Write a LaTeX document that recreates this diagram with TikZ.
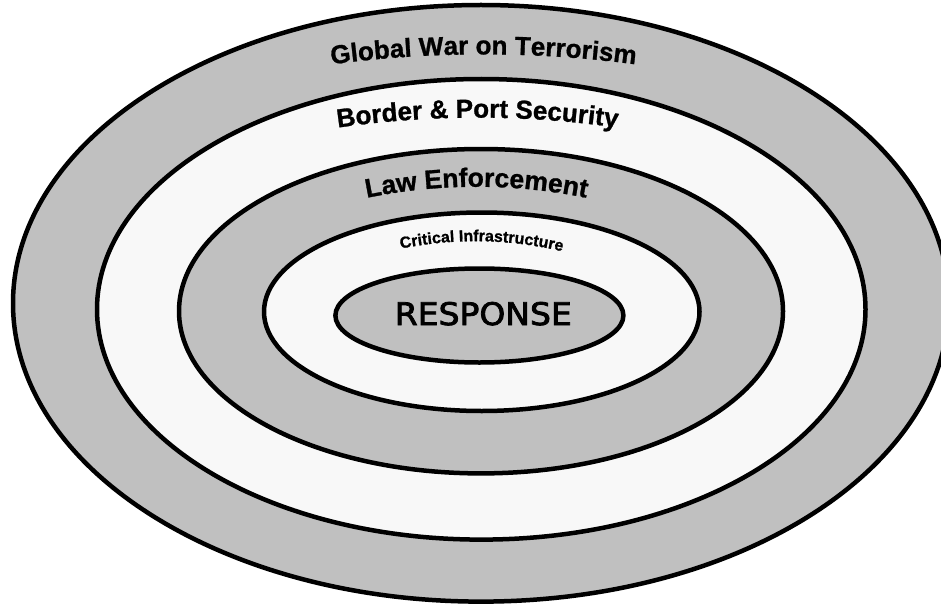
\documentclass[tikz,border=0pt]{standalone}
\usepackage{fontspec}
\setmainfont{Liberation Sans}
\newfontfamily\arcfont{Liberation Sans Bold}[FakeBold=1]
\newfontfamily\respfont{DejaVu Sans}[FakeBold=2.5]
\usetikzlibrary{decorations.text}
\definecolor{ringgray}{RGB}{192,192,192}
\definecolor{ringlight}{RGB}{248,248,248}
\begin{document}
\begin{tikzpicture}[x=1pt,y=-1pt,
  ring/.style={draw=black,line width=4.5pt},
  darkring/.style={ring,fill=ringgray},
  lightring/.style={ring,fill=ringlight},
  arctext/.style={decorate,decoration={text along path,text align=center,text={#1}}}]
\clip (0,0) rectangle (941,607);
\fill[white] (0,0) rectangle (941,607);
% rings
\draw[darkring]  (481,303.3)   ellipse [x radius=468pt,   y radius=298.3pt];
\draw[lightring] (481.25,309.3) ellipse [x radius=384.25pt,y radius=230.3pt];
\draw[darkring]  (481,311.2)   ellipse [x radius=302pt,   y radius=162.2pt];
\draw[lightring] (481.75,311.75) ellipse [x radius=217.75pt,y radius=99.25pt];
\draw[darkring]  (479.4,315.5) ellipse [x radius=144pt,   y radius=47pt];
% curved labels
{\arcfont\fontsize{26}{26}\selectfont
\path[arctext={Global War on Terrorism}]
  (320,66) .. controls (425.7,50.5) and (541.3,50.5) .. (647,66);
\path[arctext={Border {\&} Port Security}]
  (322,130) .. controls (425.7,113.5) and (529.3,113.5) .. (633,130);
}
{\arcfont\fontsize{26.5}{26.5}\selectfont
\path[arctext={Law Enforcement}]
  (352,201) .. controls (435,182) and (518,182) .. (601,201);
}
{\arcfont\fontsize{16}{16}\selectfont
\path[arctext={Critical Infrastructure}]
  (390,251) .. controls (451,237) and (512,238) .. (573,254);
}
% centre label
\node[inner sep=0pt] (resp) at (483.3,313.7)
  {\respfont\fontsize{31.1}{31.1}\selectfont\scalebox{1.06}[1]{RESPONSE}};
\end{tikzpicture}
\end{document}
